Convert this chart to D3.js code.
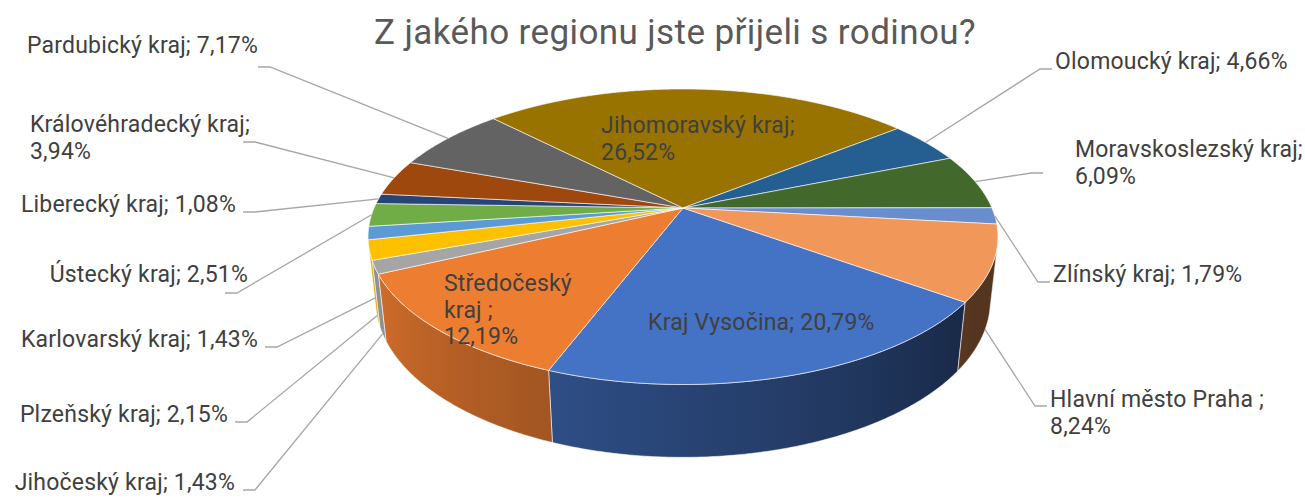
<!DOCTYPE html>
<html lang="cs">
<head>
<meta charset="UTF-8">
<title>Z jakého regionu jste přijeli s rodinou?</title>
<script src="https://d3js.org/d3.v7.min.js"></script>
<style>
  body { margin: 0; background: #fff; }
  svg { display: block; }
  text { font-family: Roboto, "Open Sans", sans-serif; }
</style>
</head>
<body>
<div id="chart"></div>
<script>
// data, in the order of the workbook (first slice = Kraj Vysočina)
const categories = ["Kraj Vysočina", "Středočeský kraj ", "Jihočeský kraj", "Plzeňský kraj",
  "Karlovarský kraj", "Ústecký kraj", "Liberecký kraj", "Královéhradecký kraj", "Pardubický kraj",
  "Jihomoravský kraj", "Olomoucký kraj", "Moravskoslezský kraj", "Zlínský kraj", "Hlavní město Praha "];
const values = [20.79, 12.19, 1.43, 2.15, 1.43, 2.51, 1.08, 3.94, 7.17, 26.52, 4.66, 6.09, 1.79, 8.24];
const colors = ["#4472C4", "#ED7D31", "#A5A5A5", "#FFC000", "#5B9BD5", "#70AD47", "#264478",
  "#9E480E", "#636363", "#997300", "#255E91", "#43682B", "#698ED0", "#F1975A"];
// how each data label wraps (character offsets)
const labelBreaks = [1, [11, 18], 1, 1, 1, 1, 1, [21], 1, [18], 1, [21], 1, [20]];

// label placement (left: right edge, right/inside: left edge; y = first baseline; lead = leader start)
const labelLayout = [
  {side: "in", x: 648, y: 330},
  {side: "in", x: 444, y: 291},
  {side: "left", x: 235, y: 490, lead: [243, 490]},
  {side: "left", x: 228, y: 422, lead: [235, 422]},
  {side: "left", x: 258, y: 347, lead: [265, 347]},
  {side: "left", x: 248, y: 282, lead: [225, 293]},
  {side: "left", x: 236, y: 212, lead: [243, 212]},
  {side: "left", x: 250, y: 132, lead: [243, 142]},
  {side: "left", x: 258, y: 53, lead: [258, 67]},
  {side: "in", x: 601, y: 133},
  {side: "right", x: 1055, y: 69, lead: [1052, 69]},
  {side: "right", x: 1075, y: 157, lead: [1043, 173]},
  {side: "right", x: 1053, y: 282, lead: [1050, 282]},
  {side: "right", x: 1050, y: 407, lead: [1047, 406]}
];

const width = 1305, height = 499;
const svg = d3.select("#chart").append("svg")
  .attr("width", width).attr("height", height);
const defs = svg.append("defs");

// 3D view of the pie
const deg = Math.PI / 180;
const cx = 683, cy = 208;
const focal = 1410, radius = 0.2191, depth = 0.0516, tilt = 27.4 * deg;

function project(theta, r, h) {
  const u = radius * r * Math.sin(theta);
  const v = radius * r * Math.cos(theta);
  const yc = v * Math.sin(tilt) + h * Math.cos(tilt);
  const zc = 1 + v * Math.cos(tilt) - h * Math.sin(tilt);
  return [cx + focal * u / zc, cy - focal * yc / zc];
}

const pie = d3.pie().sort(null).value(d => d)
  .startAngle(126 * deg).endAngle(126 * deg + 2 * Math.PI);
const arcs = pie(values);

// front part of the side wall that faces the viewer
const visA = Math.acos(-radius / Math.cos(tilt));
const visB = 2 * Math.PI - visA;

function shade(t) {
  let d = (t / deg) % 360;
  return Math.max(0.35, Math.min(0.88, 0.38 + (d - 130) * 0.0043));
}
function darken(c, k) {
  const r = d3.rgb(c);
  return d3.rgb(r.r * k, r.g * k, r.b * k).formatHex();
}
function samples(a0, a1) {
  const n = Math.max(2, Math.ceil((a1 - a0) / (0.5 * deg)));
  return d3.range(n + 1).map(i => a0 + (a1 - a0) * i / n);
}

const walls = svg.append("g");
arcs.forEach((a, i) => {
  [0, 2 * Math.PI].forEach(off => {
    const s = Math.max(a.startAngle, visA + off), e = Math.min(a.endAngle, visB + off);
    if (e <= s) return;
    const ts = samples(s, e);
    const top = ts.map(t => project(t, 1, 0));
    const bot = ts.map(t => project(t, 1, -depth)).reverse();
    const id = "wall" + i + "_" + (off ? 1 : 0);
    const x0 = top[0][0], x1 = top[top.length - 1][0];
    const g = defs.append("linearGradient").attr("id", id)
      .attr("gradientUnits", "userSpaceOnUse")
      .attr("x1", x0).attr("x2", x1).attr("y1", 0).attr("y2", 0);
    d3.range(7).forEach(j => {
      const t = s + (e - s) * j / 6;
      const px = project(t, 1, 0)[0];
      const o = x1 === x0 ? 0 : (px - x0) / (x1 - x0);
      g.append("stop").attr("offset", Math.max(0, Math.min(1, o)))
        .attr("stop-color", darken(colors[i], shade(t)));
    });
    walls.append("path")
      .attr("d", d3.line()(top.concat(bot)) + "Z")
      .attr("fill", "url(#" + id + ")")
      .attr("stroke", "#ffffff").attr("stroke-opacity", 0.55).attr("stroke-width", 1);
  });
});

const tops = svg.append("g");
arcs.forEach((a, i) => {
  const pts = [[cx, cy]].concat(samples(a.startAngle, a.endAngle).map(t => project(t, 1, 0)));
  tops.append("path")
    .attr("d", d3.line()(pts) + "Z")
    .attr("fill", colors[i])
    .attr("stroke", "#ffffff").attr("stroke-opacity", 0.6).attr("stroke-width", 1);
});

// title
svg.append("text")
  .attr("x", 675).attr("y", 44)
  .attr("text-anchor", "middle")
  .attr("fill", "#595959")
  .attr("font-size", 35)
  .attr("letter-spacing", 0.4)
  .text("Z jakého regionu jste přijeli s rodinou?");

// data labels
function fmt(v) { return v.toFixed(2).replace(".", ",") + "%"; }
const labels = svg.append("g").attr("fill", "#404040")
  .attr("font-size", 23).attr("letter-spacing", 0.2);
arcs.forEach((a, i) => {
  const full = categories[i] + "; " + fmt(values[i]);
  const br = labelBreaks[i];
  let lines = [full];
  if (Array.isArray(br)) {
    lines = [];
    let p = 0;
    br.forEach(b => { lines.push(full.slice(p, b).trim()); p = b; });
    lines.push(full.slice(p).trim());
  }
  const L = labelLayout[i];
  const t = labels.append("text").attr("y", L.y);
  lines.forEach((ln, k) => {
    t.append("tspan").attr("dy", k ? 26.5 : 0).text(ln);
  });
  const w = d3.max(t.selectAll("tspan").nodes(), n => n.getComputedTextLength());
  const x = L.side === "left" ? L.x - w : L.x;
  t.attr("x", x).selectAll("tspan").attr("x", x);

  if (L.side !== "in") {
    const mid = (a.startAngle + a.endAngle) / 2;
    const end = project(mid, 1, Math.cos(mid) < -0.1 ? -depth : 0);
    const [lx, ly] = L.lead;
    const dx = L.side === "left" ? 12 : -12;
    svg.append("path")
      .attr("d", d3.line()([[lx, ly], [lx + dx, ly], end]))
      .attr("fill", "none").attr("stroke", "#A6A6A6").attr("stroke-width", 1.3);
  }
});
</script>
</body>
</html>
